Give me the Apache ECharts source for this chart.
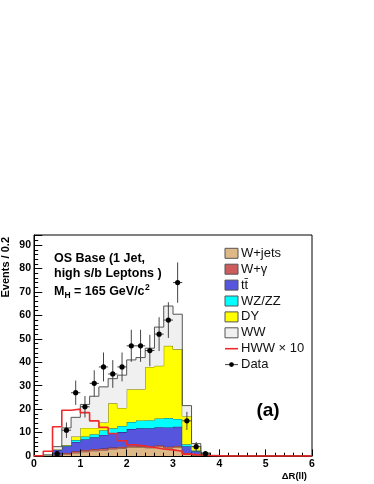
<!DOCTYPE html>
<html><head><meta charset="utf-8">
<script src="https://cdn.jsdelivr.net/npm/echarts@6/dist/echarts.min.js"></script>
<style>html,body{margin:0;padding:0;background:#fff}#c{width:374px;height:484px}</style>
</head><body><div id="c"></div>
<script>
// Bin edges of the histogram (ΔR(ll), width 0.2)
const binEdges = [0,0.2,0.4,0.6,0.8,1.0,1.2,1.4,1.6,1.8,2.0,2.2,2.4,2.6,2.8,3.0,3.2,3.4,3.6,3.8,4.0,4.2,4.4,4.6,4.8,5.0,5.2,5.4,5.6,5.8,6.0];

// Stacked backgrounds (per-bin contributions), bottom to top
const wJets  = [0,0.1,0.3,0.8,1.3,1.8,2.2,2.5,3.0,3.3,3.8,3.8,3.5,4.0,3.4,3.8,1.0,0.4,0.2,0.1,0,0,0,0,0,0,0,0,0,0];
const wGamma = [0,0,0.2,0.5,0.7,0.8,0.8,0.7,0.6,0.6,0.6,0.5,0.5,0.6,0.6,0.5,0.3,0.1,0.05,0,0,0,0,0,0,0,0,0,0,0];
const ttbar  = [0,0.1,2.1,2.9,4.0,4.6,5.0,5.8,6.0,6.3,7.1,7.5,7.8,7.7,8.2,8.2,2.9,1.5,0.35,0.05,0,0,0,0,0,0,0,0,0,0];
const wzzz   = [0,0,0.1,0.3,0.8,1.1,1.3,2.0,2.2,2.6,3.0,3.4,3.5,3.7,4.0,3.3,0.8,0.3,0.1,0,0,0,0,0,0,0,0,0,0,0];
const dy     = [0,0,0.1,0.2,1.5,3.7,2.7,3.3,10.7,7.7,14.0,13.3,22.7,22.5,30.8,29.7,12.0,2.0,0.4,0.05,0,0,0,0,0,0,0,0,0,0];
const ww     = [0,0.3,1.2,7.3,8.2,10.0,13.5,15.2,10.5,14.0,12.5,13.5,8.0,16.5,17.0,15.0,4.5,1.0,0.2,0.1,0,0,0,0,0,0,0,0,0,0];
// Signal HWW x 10 (overlaid line)
const hww10  = [0.1,2.0,12.5,19.5,20.0,18.5,15.0,12.2,9.6,6.5,4.8,4.3,3.6,3.0,2.6,2.0,0.8,0.4,0.2,0.1,0,0,0,0,0,0,0,0,0,0];
// Data points (bin centres, counts)
const dataX = [0.5,0.7,0.9,1.1,1.3,1.5,1.7,1.9,2.1,2.3,2.5,2.7,2.9,3.1,3.3,3.5,3.7];
const dataY = [1,11,27,21,31,38,35,38,47,47,45,52,58,74,15,4,1];

const bgNames = ['W+jets','W+\u03b3','tt\u0304','WZ/ZZ','DY','WW'];
const bgValues = [wJets,wGamma,ttbar,wzzz,dy,ww];
const bgFill = ['#deb887','#cd5c5c','#5555dd','#00ffff','#ffff00','#f0f0f0'];
const bgLine = ['#6e5535','#6a2a2a','#22226e','#2a7070','#7a7a10','#555555'];

const FONT = '"Liberation Sans", Arial, Helvetica, sans-serif';

// cumulative stack boundaries
const cum = [];
{
  let prev = binEdges.slice(0,-1).map(()=>0);
  bgValues.forEach(arr=>{
    const lo = prev, hi = arr.map((v,i)=>lo[i]+v);
    cum.push({lo, hi});
    prev = hi;
  });
}

function stepPoints(api, vals){
  const pts = [];
  for (let i=0;i<vals.length;i++){
    pts.push(api.coord([binEdges[i], vals[i]]));
    pts.push(api.coord([binEdges[i+1], vals[i]]));
  }
  return pts;
}

const series = bgValues.map((arr,k)=>({
  name: bgNames[k], type:'custom', silent:true, z: 2,
  data: [[0, 0]],
  renderItem:(params, api)=>{
    const top = stepPoints(api, cum[k].hi);
    const bot = stepPoints(api, cum[k].lo).reverse();
    return {type:'group', children:[
      {type:'polygon', shape:{points: top.concat(bot)}, style:{fill:bgFill[k], stroke:null}},
      {type:'polyline', shape:{points: top}, style:{stroke:bgLine[k], lineWidth:1, fill:null}}
    ]};
  }
}));
series.push({
  name:'HWW \u00d7 10', type:'line', step:'end', symbol:'none', clip:false,
  data: binEdges.map((x,i)=>[x, hww10[Math.min(i, hww10.length-1)]]),
  lineStyle:{color:'#ee2a2a', width:1.6}, z:11, silent:true
});
series.push({
  name:'Data', type:'custom', z:12, silent:true,
  data: dataX.map((x,i)=>[x,dataY[i]]),
  renderItem:(params, api)=>{
    const x = api.value(0), y = api.value(1), e = Math.sqrt(y);
    const c = api.coord([x,y]), lo = api.coord([x,Math.max(0,y-e)]), hi = api.coord([x,y+e]);
    const l = api.coord([x-0.1,y]), r = api.coord([x+0.1,y]);
    return {type:'group', children:[
      {type:'line', shape:{x1:c[0],y1:hi[1],x2:c[0],y2:lo[1]}, style:{stroke:'#444',lineWidth:1}},
      {type:'line', shape:{x1:l[0],y1:c[1],x2:r[0],y2:c[1]}, style:{stroke:'#444',lineWidth:1}},
      {type:'circle', shape:{cx:c[0],cy:c[1],r:2.6}, style:{fill:'#000'}}
    ]};
  }
});

// measuring helper for text placement
const mctx = document.createElement('canvas').getContext('2d');
function tw(txt, font){ mctx.font = font; return mctx.measureText(txt).width; }

const graphics = [];
// legend
const legX = 225, legY0 = 253.3, legStep = 15.9;
bgNames.forEach((n,k)=>{
  const cy = legY0 + k*legStep;
  graphics.push({type:'rect', shape:{x:legX, y:cy-5, width:13, height:10}, style:{fill:bgFill[k], stroke:'#555', lineWidth:1}});
  graphics.push({type:'text', x:legX+16, y:cy, style:{text:n, font:'13px '+FONT, fill:'#111', verticalAlign:'middle', align:'left'}});
});
{
  const cy = legY0 + 6*legStep;
  graphics.push({type:'line', shape:{x1:legX, y1:cy, x2:legX+13, y2:cy}, style:{stroke:'#ee2a2a', lineWidth:1.6}});
  graphics.push({type:'text', x:legX+16, y:cy, style:{text:'HWW \u00d7 10', font:'13px '+FONT, fill:'#111', verticalAlign:'middle'}});
  const cy2 = legY0 + 7*legStep;
  graphics.push({type:'line', shape:{x1:legX, y1:cy2, x2:legX+13, y2:cy2}, style:{stroke:'#444', lineWidth:1}});
  graphics.push({type:'circle', shape:{cx:legX+6.5, cy:cy2, r:2.4}, style:{fill:'#000'}});
  graphics.push({type:'text', x:legX+16, y:cy2, style:{text:'Data', font:'13px '+FONT, fill:'#111', verticalAlign:'middle'}});
}
// caption text
const capFont = 'bold 12.5px '+FONT;
graphics.push({type:'text', x:54, y:258.3, style:{text:'OS Base (1 Jet,', font:capFont, fill:'#000', verticalAlign:'middle'}});
graphics.push({type:'text', x:54, y:273.7, style:{text:'high s/b Leptons )', font:capFont, fill:'#000', verticalAlign:'middle'}});
{
  let x = 54; const y = 291.7;
  graphics.push({type:'text', x:x, y:y, style:{text:'M', font:capFont, fill:'#000', verticalAlign:'middle'}});
  x += tw('M', capFont);
  const subFont = 'bold 8.5px '+FONT;
  graphics.push({type:'text', x:x, y:y+3.5, style:{text:'H', font:subFont, fill:'#000', verticalAlign:'middle'}});
  x += tw('H', subFont);
  const rest = ' = 165 GeV/c';
  graphics.push({type:'text', x:x, y:y, style:{text:rest, font:capFont, fill:'#000', verticalAlign:'middle'}});
  x += tw(rest, capFont);
  graphics.push({type:'text', x:x+0.5, y:y-4.5, style:{text:'2', font:subFont, fill:'#000', verticalAlign:'middle'}});
}
// (a)
graphics.push({type:'text', x:268, y:411, style:{text:'(a)', font:'bold 19px '+FONT, fill:'#000', align:'center', verticalAlign:'middle'}});
// axis titles
graphics.push({type:'text', x:6, y:237, rotation:Math.PI/2, style:{text:'Events / 0.2', font:'bold 11px '+FONT, fill:'#000', align:'right', verticalAlign:'middle'}});
graphics.push({type:'text', x:307, y:476.7, style:{text:'\u0394R(ll)', font:'bold 9.5px '+FONT, fill:'#000', align:'right', verticalAlign:'middle'}});

const labelStyle = {color:'#000', fontFamily:FONT, fontWeight:'bold', fontSize:10.5};

const option = {
  animation:false,
  backgroundColor:'#fff',
  grid:{left:34, right:62, top:235, bottom:28, show:true, borderColor:'#000', borderWidth:1, backgroundColor:'transparent', outerBoundsMode:'none'},
  xAxis:{type:'value', min:0, max:6, interval:1, z:10,
    axisLine:{show:true, lineStyle:{color:'#000', width:1}},
    axisTick:{show:true, inside:true, length:6.6, lineStyle:{color:'#000'}},
    minorTick:{show:true, splitNumber:5, length:3.3, lineStyle:{color:'#000'}},
    splitLine:{show:false},
    axisLabel:Object.assign({margin:3}, labelStyle)
  },
  yAxis:[
    {type:'value', min:0, max:94.3, interval:10, z:10, position:'left',
      axisLine:{show:true, lineStyle:{color:'#000', width:1}},
      axisTick:{show:true, inside:true, length:8.3, lineStyle:{color:'#000'}},
      splitLine:{show:false},
      axisLabel:Object.assign({margin:3, formatter:(v)=> (Math.abs(v%10)<1e-6 ? String(v) : '')}, labelStyle)
    },
    {type:'value', min:0, max:94.3, interval:2, z:10, position:'left', offset:0,
      axisLine:{show:false},
      axisTick:{show:true, inside:true, length:4.2, lineStyle:{color:'#000'}},
      splitLine:{show:false},
      axisLabel:{show:false}
    }
  ],
  series: series,
  graphic: graphics
};

const chart = echarts.init(document.getElementById('c'), null, {renderer:'canvas'});
chart.setOption(option);
</script>
</body></html>
